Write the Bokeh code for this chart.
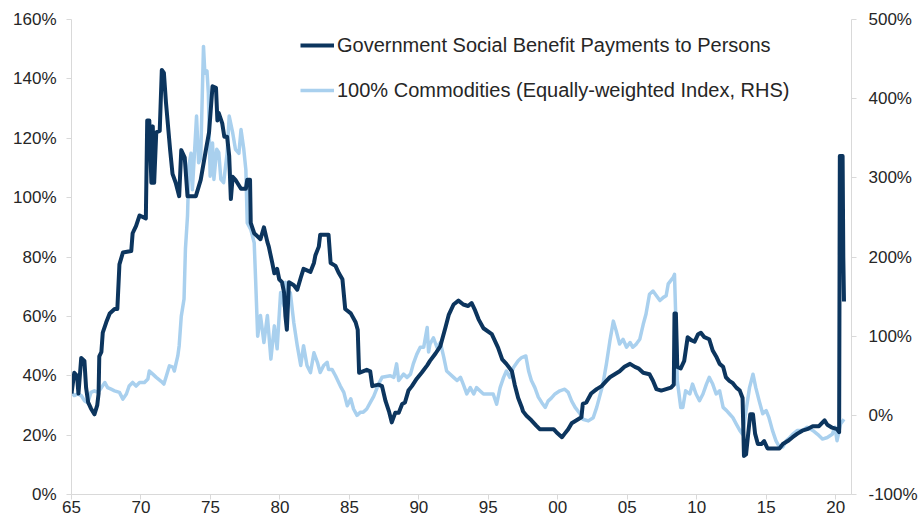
from bokeh.plotting import figure
from bokeh.models import (Range1d, LinearAxis, FixedTicker, PrintfTickFormatter,
                          Legend, LegendItem, ColumnDataSource)
from bokeh.embed import file_html
from bokeh.resources import INLINE

# ---------------- data ----------------
gov_label = "Government Social Benefit Payments to Persons"
com_label = "100% Commodities (Equally-weighted Index, RHS)"

gov_years = [1965.0, 1965.2, 1965.4, 1965.5, 1965.7, 1965.93, 1966.05, 1966.2, 1966.4, 1966.65,
             1966.85, 1966.95, 1967.0, 1967.15, 1967.25, 1967.5, 1967.75, 1968.1, 1968.3, 1968.45,
             1968.7, 1969.3, 1969.4, 1969.65, 1969.9, 1970.35, 1970.45, 1970.6, 1970.75, 1970.85,
             1970.95, 1971.1, 1971.35, 1971.5, 1971.65, 1971.8, 1972.1, 1972.27, 1972.5, 1972.75,
             1972.9, 1973.15, 1973.35, 1973.95, 1974.3, 1974.67, 1974.9, 1975.15, 1975.4, 1975.5,
             1975.6, 1975.85, 1976.0, 1976.2, 1976.35, 1976.47, 1976.6, 1976.8, 1977.2, 1977.55,
             1977.65, 1977.85, 1977.9, 1978.15, 1978.6, 1978.85, 1979.1, 1979.2, 1979.45, 1979.6,
             1979.8, 1979.95, 1980.15, 1980.3, 1980.4, 1980.5, 1980.65, 1981.0, 1981.25, 1981.5,
             1981.7, 1982.2, 1982.45, 1982.55, 1982.8, 1982.9, 1983.5, 1983.65, 1984.0, 1984.25,
             1984.5, 1984.7, 1985.1, 1985.45, 1985.6, 1985.7, 1986.25, 1986.5, 1986.65, 1987.1,
             1987.35, 1987.6, 1987.85, 1988.05, 1988.3, 1988.55, 1988.8, 1989.0, 1989.25, 1989.5,
             1989.85, 1990.2, 1990.6, 1990.8, 1991.2, 1991.55, 1991.9, 1992.15, 1992.5, 1992.85,
             1993.2, 1993.55, 1993.8, 1994.05, 1994.3, 1994.65, 1995.25, 1995.7, 1996.0, 1996.3,
             1996.7, 1996.9, 1997.15, 1997.4, 1997.5, 1997.75, 1998.1, 1998.45, 1998.7, 1999.7,
             1999.9, 2000.3, 2000.5, 2000.75, 2001.0, 2001.35, 2001.7, 2001.8, 2002.05, 2002.4,
             2002.8, 2003.15, 2003.5, 2003.75, 2004.1, 2004.45, 2004.8, 2005.2, 2005.55, 2005.8,
             2006.15, 2006.6, 2006.85, 2007.1, 2007.45, 2007.8, 2008.15, 2008.35, 2008.4, 2008.5,
             2008.6, 2008.85, 2009.1, 2009.35, 2009.6, 2009.85, 2010.1, 2010.3, 2010.55, 2010.9,
             2011.15, 2011.4, 2011.65, 2011.9, 2012.1, 2012.35, 2012.6, 2012.85, 2013.1, 2013.3,
             2013.4, 2013.55, 2013.65, 2013.85, 2014.05, 2014.2, 2014.4, 2014.65, 2014.85, 2015.1,
             2015.95, 2016.2, 2016.55, 2016.9, 2017.25, 2017.6, 2017.95, 2018.35, 2018.8, 2019.2,
             2019.4, 2019.75, 2020.1, 2020.25, 2020.3, 2020.5, 2020.55, 2020.6]
gov_vals = [34, 41, 40, 34, 46, 45, 36, 31, 29, 27,
            30, 34, 46.5, 48, 54.5, 58, 61, 62.5, 62.5, 77.5,
            81.5, 82, 88, 90.5, 94, 93, 126, 126, 105, 124,
            105, 122, 122.5, 143, 142, 132, 116, 108, 105, 100.5,
            116, 113.5, 100.5, 100.5, 106, 116, 122, 137.5, 137, 126,
            128.5, 125, 120.5, 120.5, 114, 99.5, 107, 106, 103, 103,
            106, 106, 91.5, 88, 86, 90, 85, 83.5, 78, 74.5,
            76, 72.5, 71.5, 68, 60, 55.5, 71.5, 70.5, 69, 73,
            76, 75, 78, 80.5, 83.5, 87.5, 87.5, 78, 77, 74.5,
            72.5, 62.5, 61, 58, 55.5, 41, 42, 41.5, 36.5, 37,
            36.5, 31.5, 28, 24.3, 27.5, 27.5, 30.5, 31, 35, 36.5,
            39, 41, 43.5, 45, 47.5, 50, 56, 60.5, 64, 65.3,
            64, 63.5, 64.5, 62, 59, 56, 54, 49.5, 45.5, 44,
            41.5, 37, 32.5, 29.5, 28, 26.5, 25, 23.2, 22, 22,
            21, 19.3, 20.5, 22, 24, 25, 26, 30.5, 31, 34,
            35.5, 36.5, 38.3, 39.5, 40.5, 41.5, 43, 44, 43, 42.5,
            41, 40.5, 38.3, 35.5, 35, 35.5, 36, 37, 61, 61,
            43, 42.5, 45, 53, 52, 51.5, 54, 54.5, 53, 52.3,
            48.5, 46.5, 44, 43, 39.5, 38.3, 37.5, 36, 35, 32.5,
            13, 13.5, 18, 27, 27, 20.5, 17, 17, 18, 15.5,
            15.5, 17, 18, 19.3, 20.5, 21.5, 22, 23, 23, 25,
            23.5, 22.5, 22, 21, 114, 114, 80, 65]

com_years = [1965.0, 1965.2, 1965.45, 1965.7, 1965.93, 1966.17, 1966.4, 1966.65, 1966.9, 1967.15,
             1967.4, 1967.6, 1967.85, 1968.1, 1968.45, 1968.7, 1968.95, 1969.15, 1969.4, 1969.65,
             1969.9, 1970.25, 1970.5, 1970.6, 1970.85, 1971.1, 1971.45, 1971.65, 1971.8, 1972.05,
             1972.3, 1972.4, 1972.65, 1972.75, 1972.9, 1973.1, 1973.2, 1973.35, 1973.45, 1973.6,
             1973.7, 1973.85, 1974.0, 1974.15, 1974.3, 1974.5, 1974.6, 1974.75, 1974.85, 1974.98,
             1975.15, 1975.25, 1975.45, 1975.6, 1975.75, 1975.95, 1976.2, 1976.35, 1976.6, 1976.8,
             1977.05, 1977.2, 1977.4, 1977.55, 1977.65, 1977.9, 1978.15, 1978.25, 1978.4, 1978.6,
             1978.85, 1979.1, 1979.35, 1979.6, 1979.8, 1980.05, 1980.3, 1980.4, 1980.65, 1980.75,
             1981.0, 1981.25, 1981.5, 1981.7, 1981.95, 1982.2, 1982.45, 1982.7, 1982.9, 1983.15,
             1983.4, 1983.5, 1983.75, 1984.0, 1984.35, 1984.6, 1984.85, 1985.1, 1985.3, 1985.55,
             1985.8, 1986.0, 1986.25, 1986.5, 1986.75, 1987.1, 1987.35, 1987.95, 1988.2, 1988.4,
             1988.55, 1988.9, 1989.15, 1989.4, 1989.6, 1989.85, 1990.1, 1990.35, 1990.6, 1990.7,
             1990.8, 1991.05, 1991.3, 1991.55, 1991.8, 1992.0, 1992.5, 1992.75, 1993.0, 1993.2,
             1993.45, 1993.7, 1993.95, 1994.15, 1994.65, 1995.0, 1995.35, 1995.6, 1995.85, 1996.1,
             1996.3, 1996.55, 1996.8, 1997.15, 1997.4, 1997.7, 1997.9, 1998.1, 1998.35, 1998.6,
             1998.85, 1999.1, 1999.3, 1999.55, 1999.8, 2000.15, 2000.5, 2000.75, 2001.0, 2001.25,
             2001.6, 2001.8, 2002.2, 2002.55, 2002.8, 2003.0, 2003.25, 2003.5, 2003.75, 2004.0,
             2004.2, 2004.45, 2004.7, 2004.95, 2005.2, 2005.4, 2005.65, 2005.9, 2006.15, 2006.35,
             2006.6, 2006.85, 2007.1, 2007.35, 2007.6, 2007.8, 2007.95, 2008.3, 2008.4, 2008.5,
             2008.6, 2008.85, 2009.0, 2009.2, 2009.5, 2009.7, 2009.95, 2010.2, 2010.45, 2010.7,
             2010.9, 2011.15, 2011.4, 2011.65, 2011.9, 2012.15, 2012.35, 2012.6, 2012.85, 2013.1,
             2013.3, 2013.55, 2013.8, 2014.05, 2014.25, 2014.5, 2014.75, 2015.0, 2015.2, 2015.45,
             2015.7, 2015.95, 2016.2, 2016.45, 2016.7, 2016.9, 2017.25, 2017.6, 2017.95, 2018.35,
             2018.7, 2019.05, 2019.4, 2019.75, 2019.95, 2020.1, 2020.35, 2020.6]
com_vals = [29, 25, 27, 25, 18.5, 16, 29, 31, 29, 35,
            41.5, 35, 33, 31, 29, 20.5, 27, 37, 41.5, 37,
            41.5, 41.5, 46, 56, 52, 48, 43, 39.5, 48, 62.5,
            61, 56, 75, 88, 125, 147, 210, 252, 315, 331,
            285, 331, 378, 319, 325, 466, 432, 435, 407, 302,
            344, 298, 336, 332, 298, 294, 331, 378, 357, 336,
            331, 361, 336, 310, 243, 235, 218, 172, 100, 126,
            92, 126, 71, 113, 84, 155, 138, 168, 146, 155,
            117, 88, 63, 88, 63, 54, 79, 67, 54, 63,
            67, 58, 58, 50, 37, 29, 12, 21, 8, 0,
            4, 4, 8, 16, 24, 39.5, 48, 50, 48, 65,
            44, 52, 48, 52, 65, 77, 86, 86, 111, 80,
            90, 98, 86, 92, 73, 56, 48, 44, 48, 39,
            27, 35, 27, 35, 27, 27, 27, 14, 35, 48,
            56, 48, 60, 69, 73, 75, 56, 44, 35, 23,
            16, 10, 18, 22, 27, 31, 33, 29, 18, 10,
            2, -5, -7, -3, 10, 23, 39.5, 65, 94, 119,
            107, 90, 96, 86, 92, 86, 90, 96, 115, 128,
            153, 157, 151, 145, 149, 151, 166, 174, 178, 119,
            44, 10, 10, 31, 27, 39.5, 27, 18.5, 27, 39.5,
            48, 39.5, 27, 31, 10, 6, 2, -3, -11, -19,
            -24, 6, 35, 52, 35, 18, 2, 6, -3, -19,
            -32, -40, -40, -32, -28, -24, -19, -19, -15, -19,
            -24, -30, -28, -24, -15, -32, -11, -5]

left_ticks = [0, 20, 40, 60, 80, 100, 120, 140, 160]
right_ticks = [-100, 0, 100, 200, 300, 400, 500]
x_ticks = [1965, 1970, 1975, 1980, 1985, 1990, 1995, 2000, 2005, 2010, 2015, 2020]
x_tick_labels = ["65", "70", "75", "80", "85", "90", "95", "00", "05", "10", "15", "20"]

# ---------------- styling ----------------
FONT = "Liberation Sans"
DARK = "#0c355e"
LIGHT = "#a9d0ee"
AXIS_GREY = "#d9d9d9"
TEXT = "#262626"

p = figure(width=920, height=520, output_backend="svg", toolbar_location=None,
           x_range=Range1d(1965.0, 2021.14), y_range=Range1d(0, 160),
           min_border_left=71, min_border_right=67, min_border_top=19, min_border_bottom=26)
p.extra_y_ranges = {"rhs": Range1d(-100, 500)}
p.outline_line_color = None
p.xgrid.visible = False
p.ygrid.visible = False
p.background_fill_color = "white"
p.border_fill_color = "white"

com_src = ColumnDataSource(dict(x=com_years, y=com_vals))
gov_src = ColumnDataSource(dict(x=gov_years, y=gov_vals))
r_com = p.line("x", "y", source=com_src, line_color=LIGHT, line_width=3.5,
               y_range_name="rhs", line_join="round")
r_gov = p.line("x", "y", source=gov_src, line_color=DARK, line_width=4, line_join="round")

right_axis = LinearAxis(y_range_name="rhs")
p.add_layout(right_axis, "right")


def style_axis(ax):
    ax.axis_line_color = AXIS_GREY
    ax.axis_line_width = 1
    ax.major_tick_line_color = AXIS_GREY
    ax.major_tick_in = 0
    ax.major_tick_out = 5
    ax.minor_tick_line_color = None
    ax.major_label_text_font = FONT
    ax.major_label_text_font_size = "17px"
    ax.major_label_text_color = TEXT


xa = p.xaxis[0]
style_axis(xa)
xa.ticker = FixedTicker(ticks=x_ticks)
xa.major_label_overrides = {t: lab for t, lab in zip(x_ticks, x_tick_labels)}
xa.major_label_standoff = 1

ya = p.yaxis[0]
style_axis(ya)
ya.ticker = FixedTicker(ticks=left_ticks)
ya.formatter = PrintfTickFormatter(format="%d%%")
ya.major_label_standoff = 10

style_axis(right_axis)
right_axis.ticker = FixedTicker(ticks=right_ticks)
right_axis.formatter = PrintfTickFormatter(format="%d%%")
right_axis.major_label_standoff = 12

legend = Legend(items=[LegendItem(label=gov_label, renderers=[r_gov]),
                       LegendItem(label=com_label, renderers=[r_com])],
                location=(229, 392), orientation="vertical",
                padding=0, margin=0, spacing=21,
                glyph_width=34, glyph_height=24, label_height=24, label_standoff=3,
                label_text_font=FONT, label_text_font_size="20px", label_text_color=TEXT,
                border_line_color=None, background_fill_alpha=0)
p.add_layout(legend, "center")

open("out.html", "w").write(file_html(p, INLINE))
